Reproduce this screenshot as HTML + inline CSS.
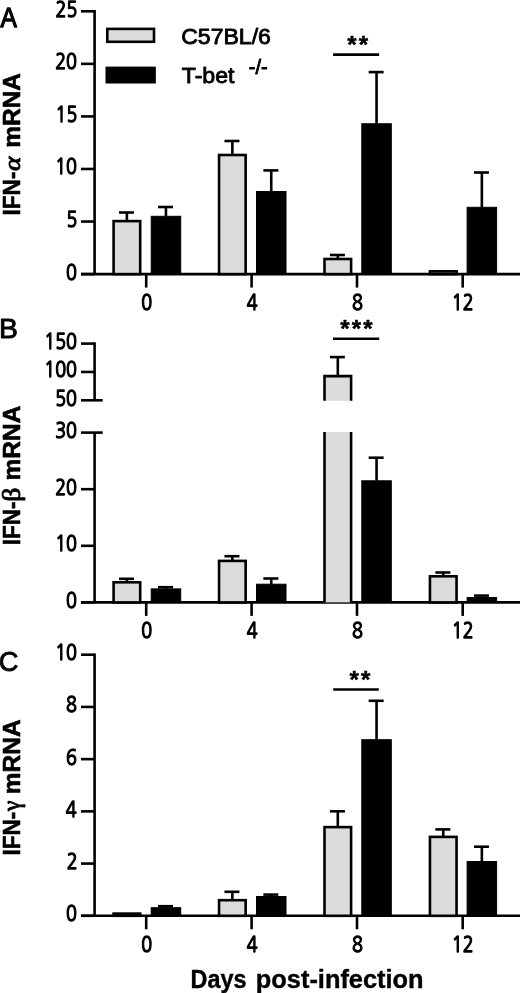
<!DOCTYPE html>
<html><head><meta charset="utf-8"><title>IFN mRNA</title>
<style>
html,body{margin:0;padding:0;background:#fff;}
body{width:520px;height:993px;overflow:hidden;}
svg{display:block;}
text{font-family:"Liberation Sans",Arial,Helvetica,sans-serif;fill:#000;stroke:none;stroke-linejoin:round;}
.t{stroke:#000;stroke-width:0.95px;}
.s{stroke:#000;stroke-width:0.5px;}
.k{font-family:"NanumGothic","Liberation Sans",sans-serif;stroke:#000;stroke-width:1.4px;}
.b{stroke:#000;stroke-width:0.6px;}
.g{font-family:"Liberation Serif",serif;font-weight:normal;stroke:#000;stroke-width:0.9px;}
</style></head>
<body>
<svg width="520" height="993" viewBox="0 0 520 993">
<rect width="520" height="993" fill="#fff"/>
<g stroke="#000" stroke-linecap="butt">
<text class="t" style="stroke-width:1.3px" transform="translate(0.40,26.70) scale(0.8779,1)" font-size="28.0" font-weight="normal">A</text>
<line x1="94.60" y1="10.00" x2="94.60" y2="274.10" stroke-width="2.6"/>
<line x1="81.00" y1="274.10" x2="94.60" y2="274.10" stroke-width="2.6"/>
<text class="k" transform="translate(66.08,279.55) scale(0.83,1)" font-size="21.69">0</text>
<line x1="81.00" y1="221.54" x2="94.60" y2="221.54" stroke-width="2.6"/>
<text class="k" transform="translate(66.40,226.99) scale(0.83,1)" font-size="21.69">5</text>
<line x1="81.00" y1="168.98" x2="94.60" y2="168.98" stroke-width="2.6"/>
<text class="k" transform="translate(55.17,174.43) scale(0.83,1)" font-size="21.69">10</text>
<line x1="81.00" y1="116.42" x2="94.60" y2="116.42" stroke-width="2.6"/>
<text class="k" transform="translate(55.49,121.87) scale(0.83,1)" font-size="21.69">15</text>
<line x1="81.00" y1="63.86" x2="94.60" y2="63.86" stroke-width="2.6"/>
<text class="k" transform="translate(55.17,69.31) scale(0.83,1)" font-size="21.69">20</text>
<line x1="81.00" y1="11.30" x2="94.60" y2="11.30" stroke-width="2.6"/>
<text class="k" transform="translate(55.49,16.75) scale(0.83,1)" font-size="21.69">25</text>
<line x1="81.00" y1="274.10" x2="520.00" y2="274.10" stroke-width="2.6"/>
<line x1="146.20" y1="274.10" x2="146.20" y2="287.60" stroke-width="2.6"/>
<line x1="251.60" y1="274.10" x2="251.60" y2="287.60" stroke-width="2.6"/>
<line x1="357.00" y1="274.10" x2="357.00" y2="287.60" stroke-width="2.6"/>
<line x1="462.70" y1="274.10" x2="462.70" y2="287.60" stroke-width="2.6"/>
<line x1="126.90" y1="212.50" x2="126.90" y2="221.10" stroke-width="2.6"/>
<line x1="119.00" y1="212.50" x2="134.00" y2="212.50" stroke-width="2.6"/>
<rect x="113.60" y="221.10" width="26.60" height="53.00" fill="#dcdcdc" stroke="#000" stroke-width="2.6"/>
<line x1="165.95" y1="207.00" x2="165.95" y2="216.30" stroke-width="2.6"/>
<line x1="158.05" y1="207.00" x2="173.05" y2="207.00" stroke-width="2.6"/>
<rect x="151.20" y="216.30" width="29.50" height="57.80" fill="#000"/>
<line x1="232.35" y1="141.00" x2="232.35" y2="155.00" stroke-width="2.6"/>
<line x1="224.45" y1="141.00" x2="239.45" y2="141.00" stroke-width="2.6"/>
<rect x="219.05" y="155.00" width="26.60" height="119.10" fill="#dcdcdc" stroke="#000" stroke-width="2.6"/>
<line x1="271.25" y1="170.40" x2="271.25" y2="191.50" stroke-width="2.6"/>
<line x1="263.35" y1="170.40" x2="278.35" y2="170.40" stroke-width="2.6"/>
<rect x="256.50" y="191.50" width="29.50" height="82.60" fill="#000"/>
<line x1="337.80" y1="255.00" x2="337.80" y2="259.00" stroke-width="2.6"/>
<line x1="329.90" y1="255.00" x2="344.90" y2="255.00" stroke-width="2.6"/>
<rect x="324.50" y="259.00" width="26.60" height="15.10" fill="#dcdcdc" stroke="#000" stroke-width="2.6"/>
<line x1="376.55" y1="72.10" x2="376.55" y2="123.75" stroke-width="2.6"/>
<line x1="368.65" y1="72.10" x2="383.65" y2="72.10" stroke-width="2.6"/>
<rect x="361.80" y="123.75" width="29.50" height="150.35" fill="#000"/>
<rect x="429.95" y="271.30" width="26.60" height="2.80" fill="#dcdcdc" stroke="#000" stroke-width="2.6"/>
<line x1="481.85" y1="172.50" x2="481.85" y2="207.30" stroke-width="2.6"/>
<line x1="473.95" y1="172.50" x2="488.95" y2="172.50" stroke-width="2.6"/>
<rect x="467.10" y="207.30" width="29.50" height="66.80" fill="#000"/>
<text class="k" transform="translate(141.19,309.90) scale(0.83,1)" font-size="21.69">0</text>
<text class="k" transform="translate(246.64,309.90) scale(0.83,1)" font-size="21.69">4</text>
<text class="k" transform="translate(351.98,309.90) scale(0.83,1)" font-size="21.69">8</text>
<text class="k" transform="translate(451.86,309.90) scale(0.83,1)" font-size="21.69">12</text>
<line x1="333.10" y1="54.60" x2="379.10" y2="54.60" stroke-width="2.6"/>
<text class="s" x="351.90" y="53.00" font-size="24.0" font-weight="bold" text-anchor="middle">*</text>
<text class="s" x="363.40" y="53.00" font-size="24.0" font-weight="bold" text-anchor="middle">*</text>
<g transform="translate(19.6,213.90) rotate(-90)"><text class="b" transform="translate(-1.51,0) scale(0.92,1)" font-size="24.5" font-weight="bold">IFN-</text><text class="g" transform="translate(42.78,0) scale(1.164,1)" font-size="23.5" font-style="italic">&#945;</text><text class="b" x="66.09" y="0" font-size="24.5" font-weight="bold">mRNA</text></g>
<rect x="107.30" y="28.90" width="46.70" height="12.90" fill="#dcdcdc" stroke="#000" stroke-width="2.6"/>
<rect x="106.0" y="67.1" width="49.30" height="15.90" fill="#000"/>
<text class="t" style="stroke-width:0.85px" transform="translate(181.15,43.60) scale(1.0306,1)" font-size="22.4" font-weight="normal">C57BL/6</text>
<text class="t" style="stroke-width:0.85px" transform="translate(181.81,83.10) scale(1.0317,1)" font-size="22.4" font-weight="normal">T-bet</text>
<text class="t" x="248.8" y="73.8" font-size="20">-/-</text>
<text class="t" style="stroke-width:0.9px" transform="translate(-0.98,338.20) scale(1.0133,1)" font-size="28.0" font-weight="normal">B</text>
<line x1="94.60" y1="342.30" x2="94.60" y2="400.30" stroke-width="2.6"/>
<line x1="94.60" y1="432.60" x2="94.60" y2="602.40" stroke-width="2.6"/>
<line x1="81.00" y1="400.30" x2="102.70" y2="400.30" stroke-width="2.6"/>
<text class="k" transform="translate(55.17,405.75) scale(0.83,1)" font-size="21.69">50</text>
<line x1="81.00" y1="371.95" x2="94.60" y2="371.95" stroke-width="2.6"/>
<text class="k" transform="translate(44.26,377.40) scale(0.83,1)" font-size="21.69">100</text>
<line x1="81.00" y1="343.60" x2="94.60" y2="343.60" stroke-width="2.6"/>
<text class="k" transform="translate(44.26,349.05) scale(0.83,1)" font-size="21.69">150</text>
<line x1="81.00" y1="602.40" x2="94.60" y2="602.40" stroke-width="2.6"/>
<text class="k" transform="translate(66.08,607.85) scale(0.83,1)" font-size="21.69">0</text>
<line x1="81.00" y1="545.80" x2="94.60" y2="545.80" stroke-width="2.6"/>
<text class="k" transform="translate(55.17,551.25) scale(0.83,1)" font-size="21.69">10</text>
<line x1="81.00" y1="489.20" x2="94.60" y2="489.20" stroke-width="2.6"/>
<text class="k" transform="translate(55.17,494.65) scale(0.83,1)" font-size="21.69">20</text>
<line x1="81.00" y1="432.60" x2="102.70" y2="432.60" stroke-width="2.6"/>
<text class="k" transform="translate(55.17,438.05) scale(0.83,1)" font-size="21.69">30</text>
<line x1="81.00" y1="602.40" x2="520.00" y2="602.40" stroke-width="2.6"/>
<line x1="146.20" y1="602.40" x2="146.20" y2="615.90" stroke-width="2.6"/>
<line x1="251.60" y1="602.40" x2="251.60" y2="615.90" stroke-width="2.6"/>
<line x1="357.00" y1="602.40" x2="357.00" y2="615.90" stroke-width="2.6"/>
<line x1="462.70" y1="602.40" x2="462.70" y2="615.90" stroke-width="2.6"/>
<line x1="126.90" y1="578.80" x2="126.90" y2="582.30" stroke-width="2.6"/>
<line x1="119.00" y1="578.80" x2="134.00" y2="578.80" stroke-width="2.6"/>
<rect x="113.60" y="582.30" width="26.60" height="20.10" fill="#dcdcdc" stroke="#000" stroke-width="2.6"/>
<line x1="165.95" y1="587.20" x2="165.95" y2="588.90" stroke-width="2.6"/>
<line x1="158.05" y1="587.20" x2="173.05" y2="587.20" stroke-width="2.6"/>
<rect x="151.20" y="588.90" width="29.50" height="13.50" fill="#000"/>
<line x1="232.35" y1="556.20" x2="232.35" y2="560.90" stroke-width="2.6"/>
<line x1="224.45" y1="556.20" x2="239.45" y2="556.20" stroke-width="2.6"/>
<rect x="219.05" y="560.90" width="26.60" height="41.50" fill="#dcdcdc" stroke="#000" stroke-width="2.6"/>
<line x1="271.25" y1="578.50" x2="271.25" y2="584.20" stroke-width="2.6"/>
<line x1="263.35" y1="578.50" x2="278.35" y2="578.50" stroke-width="2.6"/>
<rect x="256.50" y="584.20" width="29.50" height="18.20" fill="#000"/>
<line x1="337.80" y1="357.10" x2="337.80" y2="376.10" stroke-width="2.6"/>
<line x1="329.90" y1="357.10" x2="344.90" y2="357.10" stroke-width="2.6"/>
<rect x="324.50" y="376.10" width="26.60" height="24.70" fill="#dcdcdc" stroke="none"/>
<path d="M324.50,400.80 V376.10 H351.10 V400.80" fill="none" stroke="#000" stroke-width="2.6"/>
<rect x="324.50" y="432.10" width="26.60" height="170.30" fill="#dcdcdc" stroke="none"/>
<path d="M324.50,432.10 V602.40 M351.10,432.10 V602.40" fill="none" stroke="#000" stroke-width="2.6"/>
<line x1="376.55" y1="457.70" x2="376.55" y2="480.80" stroke-width="2.6"/>
<line x1="368.65" y1="457.70" x2="383.65" y2="457.70" stroke-width="2.6"/>
<rect x="361.80" y="480.80" width="29.50" height="121.60" fill="#000"/>
<line x1="443.25" y1="572.50" x2="443.25" y2="576.30" stroke-width="2.6"/>
<line x1="435.35" y1="572.50" x2="450.35" y2="572.50" stroke-width="2.6"/>
<rect x="429.95" y="576.30" width="26.60" height="26.10" fill="#dcdcdc" stroke="#000" stroke-width="2.6"/>
<line x1="481.85" y1="595.60" x2="481.85" y2="597.50" stroke-width="2.6"/>
<line x1="473.95" y1="595.60" x2="488.95" y2="595.60" stroke-width="2.6"/>
<rect x="467.10" y="597.50" width="29.50" height="4.90" fill="#000"/>
<text class="k" transform="translate(141.19,638.20) scale(0.83,1)" font-size="21.69">0</text>
<text class="k" transform="translate(246.64,638.20) scale(0.83,1)" font-size="21.69">4</text>
<text class="k" transform="translate(351.98,638.20) scale(0.83,1)" font-size="21.69">8</text>
<text class="k" transform="translate(451.86,638.20) scale(0.83,1)" font-size="21.69">12</text>
<line x1="333.00" y1="338.80" x2="379.20" y2="338.80" stroke-width="2.6"/>
<text class="s" x="344.85" y="337.00" font-size="24.0" font-weight="bold" text-anchor="middle">*</text>
<text class="s" x="356.35" y="337.00" font-size="24.0" font-weight="bold" text-anchor="middle">*</text>
<text class="s" x="367.85" y="337.00" font-size="24.0" font-weight="bold" text-anchor="middle">*</text>
<g transform="translate(19.6,543.70) rotate(-90)"><text class="b" transform="translate(-1.51,0) scale(0.92,1)" font-size="24.5" font-weight="bold">IFN-</text><text class="g" transform="translate(41.92,0) scale(1.114,1)" font-size="25.0" font-style="normal">&#946;</text><text class="b" x="63.19" y="0" font-size="24.5" font-weight="bold">mRNA</text></g>
<text class="t" style="stroke-width:0.9px" transform="translate(-1.34,670.90) scale(0.9756,1)" font-size="28.0" font-weight="normal">C</text>
<line x1="94.60" y1="653.40" x2="94.60" y2="915.80" stroke-width="2.6"/>
<line x1="81.00" y1="915.80" x2="94.60" y2="915.80" stroke-width="2.6"/>
<text class="k" transform="translate(66.08,921.25) scale(0.83,1)" font-size="21.69">0</text>
<line x1="81.00" y1="863.58" x2="94.60" y2="863.58" stroke-width="2.6"/>
<text class="k" transform="translate(66.78,869.03) scale(0.83,1)" font-size="21.69">2</text>
<line x1="81.00" y1="811.36" x2="94.60" y2="811.36" stroke-width="2.6"/>
<text class="k" transform="translate(65.68,816.81) scale(0.83,1)" font-size="21.69">4</text>
<line x1="81.00" y1="759.14" x2="94.60" y2="759.14" stroke-width="2.6"/>
<text class="k" transform="translate(66.08,764.59) scale(0.83,1)" font-size="21.69">6</text>
<line x1="81.00" y1="706.92" x2="94.60" y2="706.92" stroke-width="2.6"/>
<text class="k" transform="translate(66.01,712.37) scale(0.83,1)" font-size="21.69">8</text>
<line x1="81.00" y1="654.70" x2="94.60" y2="654.70" stroke-width="2.6"/>
<text class="k" transform="translate(55.17,660.15) scale(0.83,1)" font-size="21.69">10</text>
<line x1="81.00" y1="915.80" x2="520.00" y2="915.80" stroke-width="2.6"/>
<line x1="146.20" y1="915.80" x2="146.20" y2="929.30" stroke-width="2.6"/>
<line x1="251.60" y1="915.80" x2="251.60" y2="929.30" stroke-width="2.6"/>
<line x1="357.00" y1="915.80" x2="357.00" y2="929.30" stroke-width="2.6"/>
<line x1="462.70" y1="915.80" x2="462.70" y2="929.30" stroke-width="2.6"/>
<rect x="113.60" y="913.60" width="26.60" height="2.20" fill="#dcdcdc" stroke="#000" stroke-width="2.6"/>
<line x1="165.95" y1="906.20" x2="165.95" y2="907.70" stroke-width="2.6"/>
<line x1="158.05" y1="906.20" x2="173.05" y2="906.20" stroke-width="2.6"/>
<rect x="151.20" y="907.70" width="29.50" height="8.10" fill="#000"/>
<line x1="232.35" y1="891.80" x2="232.35" y2="900.20" stroke-width="2.6"/>
<line x1="224.45" y1="891.80" x2="239.45" y2="891.80" stroke-width="2.6"/>
<rect x="219.05" y="900.20" width="26.60" height="15.60" fill="#dcdcdc" stroke="#000" stroke-width="2.6"/>
<line x1="271.25" y1="894.60" x2="271.25" y2="896.50" stroke-width="2.6"/>
<line x1="263.35" y1="894.60" x2="278.35" y2="894.60" stroke-width="2.6"/>
<rect x="256.50" y="896.50" width="29.50" height="19.30" fill="#000"/>
<line x1="337.80" y1="811.30" x2="337.80" y2="827.10" stroke-width="2.6"/>
<line x1="329.90" y1="811.30" x2="344.90" y2="811.30" stroke-width="2.6"/>
<rect x="324.50" y="827.10" width="26.60" height="88.70" fill="#dcdcdc" stroke="#000" stroke-width="2.6"/>
<line x1="376.55" y1="700.80" x2="376.55" y2="739.70" stroke-width="2.6"/>
<line x1="368.65" y1="700.80" x2="383.65" y2="700.80" stroke-width="2.6"/>
<rect x="361.80" y="739.70" width="29.50" height="176.10" fill="#000"/>
<line x1="443.25" y1="829.40" x2="443.25" y2="836.90" stroke-width="2.6"/>
<line x1="435.35" y1="829.40" x2="450.35" y2="829.40" stroke-width="2.6"/>
<rect x="429.95" y="836.90" width="26.60" height="78.90" fill="#dcdcdc" stroke="#000" stroke-width="2.6"/>
<line x1="481.85" y1="846.70" x2="481.85" y2="861.50" stroke-width="2.6"/>
<line x1="473.95" y1="846.70" x2="488.95" y2="846.70" stroke-width="2.6"/>
<rect x="467.10" y="861.50" width="29.50" height="54.30" fill="#000"/>
<text class="k" transform="translate(141.19,951.60) scale(0.83,1)" font-size="21.69">0</text>
<text class="k" transform="translate(246.64,951.60) scale(0.83,1)" font-size="21.69">4</text>
<text class="k" transform="translate(351.98,951.60) scale(0.83,1)" font-size="21.69">8</text>
<text class="k" transform="translate(451.86,951.60) scale(0.83,1)" font-size="21.69">12</text>
<line x1="333.20" y1="689.50" x2="378.80" y2="689.50" stroke-width="2.6"/>
<text class="s" x="354.10" y="687.90" font-size="24.0" font-weight="bold" text-anchor="middle">*</text>
<text class="s" x="365.60" y="687.90" font-size="24.0" font-weight="bold" text-anchor="middle">*</text>
<g transform="translate(19.6,854.10) rotate(-90)"><text class="b" transform="translate(-1.51,0) scale(0.92,1)" font-size="24.5" font-weight="bold">IFN-</text><text class="g" transform="translate(43.02,0) scale(0.922,1)" font-size="25.3" font-style="normal">&#947;</text><text class="b" x="59.89" y="0" font-size="24.5" font-weight="bold">mRNA</text></g>
<text class="b" style="stroke-width:0.4px" transform="translate(190.53,988.40) scale(0.9084,1)" font-size="25.8" font-weight="bold">Days</text>
<text class="b" style="stroke-width:0.4px" transform="translate(255.83,988.40) scale(0.9842,1)" font-size="25.8" font-weight="bold">post-infection</text>
</g>
</svg>
</body></html>
